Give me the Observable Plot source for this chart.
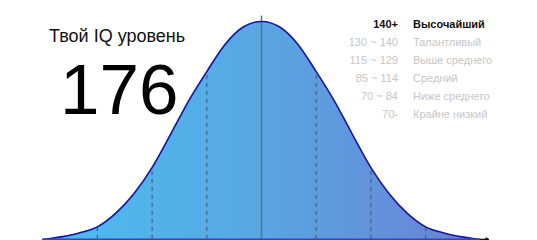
<!DOCTYPE html>
<html>
<head>
<meta charset="utf-8">
<script src="https://cdn.jsdelivr.net/npm/d3@7"></script>
<script src="https://cdn.jsdelivr.net/npm/@observablehq/plot@0.6"></script>
<style>
  body { margin: 0; background: #fff; font-family: "Liberation Sans", Arial, sans-serif; }
  #wrap { position: relative; width: 537px; height: 240px; overflow: hidden; }
  #wrap svg { position: absolute; left: 0; top: 0; }
  .title { position: absolute; left: 49px; top: 26px; font-size: 18px; color: #111; white-space: nowrap; }
  .score { position: absolute; left: 60px; top: 50px; font-size: 71px; line-height: 80px; color: #000; white-space: nowrap; }
  .leg { position: absolute; font-size: 11px; line-height: 18px; white-space: nowrap; }
  .rng { right: 139px; text-align: right; }
  .nm { left: 413px; }
</style>
</head>
<body>
<div id="wrap"></div>
<script>
// IQ scores along the axis and bell-curve height (fraction of peak)
const iq     = [40, 45, 50, 55, 60, 65, 70, 75, 80, 85, 90, 95, 100, 105, 110, 115, 120, 125, 130, 135, 140, 145, 150, 155, 160];
const height = [0, 0.012, 0.03, 0.058, 0.12, 0.21, 0.33, 0.48, 0.635, 0.77, 0.895, 0.975, 1, 0.975, 0.895, 0.77, 0.635, 0.48, 0.33, 0.21, 0.12, 0.058, 0.03, 0.012, 0];
// dashed band boundaries
const bandIQ = [55, 70, 85, 115, 130, 145];
const meanIQ = 100;
const userScore = "176";
const titleText = "Твой IQ уровень";
// legend
const rangeLabels = ["140+", "130 ~ 140", "115 ~ 129", "85 ~ 114", "70 ~ 84", "70-"];
const levelNames = ["Высочайший", "Талантливый", "Выше среднего", "Средний", "Ниже среднего", "Крайне низкий"];

const curve = iq.map((v, i) => ({iq: v, h: height[i]}));
const hAt = v => height[iq.indexOf(v)];
const bands = bandIQ.map(v => ({iq: v, h: hAt(v)}));

const plot = Plot.plot({
  width: 537,
  height: 240,
  marginLeft: 0, marginRight: 0, marginTop: 21, marginBottom: 1,
  x: {domain: [28.43, 175.68], axis: null},
  y: {domain: [0, 1], axis: null},
  marks: [
    Plot.areaY(curve, {x: "iq", y: "h", fill: "url(#bellgrad)", curve: "monotone-x"}),
    Plot.ruleX(bands, {x: "iq", y1: 0, y2: "h", stroke: "#4a5a78", strokeWidth: 1.2, strokeDasharray: "4,4"}),
    Plot.ruleX([meanIQ], {y1: 0, y2: 1.025, stroke: "#5f6f88", strokeWidth: 1.5}),
    Plot.lineY(curve, {x: "iq", y: "h", stroke: "#1414a8", strokeWidth: 1.6, curve: "monotone-x"}),
    Plot.ruleY([0], {x1: iq[0], x2: iq[iq.length - 1], stroke: "#2a48c8", strokeWidth: 2}),
    Plot.arrow([{x1: iq[iq.length - 1], x2: iq[iq.length - 1] + 2.2, y: 0}], {x1: "x1", x2: "x2", y1: "y", y2: "y", stroke: "#111", strokeWidth: 1.5, headLength: 5})
  ]
});

const svg = d3.select(plot);
const grad = svg.insert("defs", ":first-child").append("linearGradient")
  .attr("id", "bellgrad").attr("x1", "0").attr("x2", "1").attr("y1", "0").attr("y2", "0");
grad.append("stop").attr("offset", "0%").attr("stop-color", "#4abdee");
grad.append("stop").attr("offset", "50%").attr("stop-color", "#58a7e3");
grad.append("stop").attr("offset", "100%").attr("stop-color", "#6b7fd3");

const wrap = document.getElementById("wrap");
wrap.appendChild(plot);

const t = document.createElement("div");
t.className = "title"; t.textContent = titleText; wrap.appendChild(t);
const s = document.createElement("div");
s.className = "score"; s.textContent = userScore; wrap.appendChild(s);

rangeLabels.forEach((r, i) => {
  const top = 15 + i * 18;
  const first = i === 0;
  const a = document.createElement("div");
  a.className = "leg rng"; a.textContent = r;
  a.style.top = top + "px";
  a.style.color = first ? "#111" : "#c6c6c6";
  if (first) a.style.fontWeight = "bold";
  wrap.appendChild(a);
  const b = document.createElement("div");
  b.className = "leg nm"; b.textContent = levelNames[i];
  b.style.top = top + "px";
  b.style.color = first ? "#111" : "#c6c6c6";
  if (first) b.style.fontWeight = "bold";
  wrap.appendChild(b);
});
</script>
</body>
</html>
